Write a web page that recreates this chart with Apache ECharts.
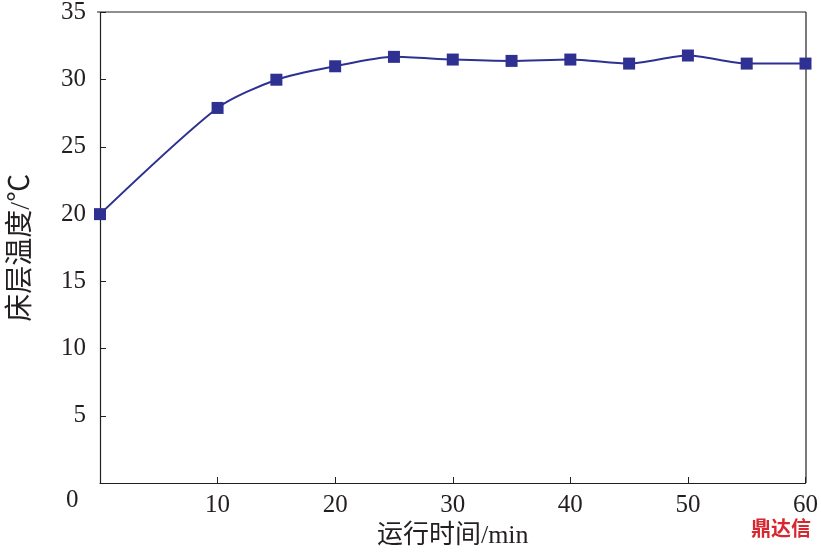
<!DOCTYPE html>
<html><head><meta charset="utf-8">
<script src="https://cdn.jsdelivr.net/npm/echarts@6/dist/echarts.min.js"></script>
<style>body{margin:0}#c{width:821px;height:555px}</style></head>
<body><div id="c"></div>
<script>
const times=[0,10,15,20,25,30,35,40,45,50,55,60];
const temps=[20,27.9,30,31,31.7,31.5,31.4,31.5,31.2,31.8,31.2,31.2];
const xTitle='运行时间/min', yTitle='床层温度/℃';
const font='"Liberation Serif","Noto Sans CJK SC",serif';
const ch=echarts.init(document.getElementById('c'));
ch.setOption({
 animation:false,
 grid:{left:97,right:15,top:12,bottom:72},
 xAxis:{type:'value',min:0,max:60,interval:10,name:xTitle,nameLocation:'middle',nameGap:38,
  nameTextStyle:{fontFamily:font,fontSize:26,color:'#231f20'},
  axisLine:{lineStyle:{color:'#231f20',width:1.2}},axisTick:{inside:true,length:6,lineStyle:{color:'#231f20'}},
  axisLabel:{fontFamily:font,fontSize:25,color:'#231f20',margin:10,formatter:v=>v===0?'':v},splitLine:{show:false}},
 yAxis:{type:'value',min:0,max:35,interval:5,name:yTitle,nameLocation:'middle',nameGap:64,
  nameTextStyle:{fontFamily:font,fontSize:28,color:'#231f20'},
  axisLine:{lineStyle:{color:'#231f20',width:1.2}},axisTick:{inside:true,length:6,lineStyle:{color:'#231f20'}},
  axisLabel:{fontFamily:font,fontSize:25,color:'#231f20',margin:14,formatter:v=>v===0?'':v},splitLine:{show:false}},
 graphic:[
  {type:'line',shape:{x1:97,y1:12,x2:806,y2:12},style:{stroke:'#231f20',lineWidth:1.2},silent:true},
  {type:'line',shape:{x1:806,y1:12,x2:806,y2:483},style:{stroke:'#231f20',lineWidth:1.2},silent:true},
  {type:'text',left:66,top:488,style:{text:'0',font:'25px '+font,fill:'#231f20'}},
  {type:'text',right:10,top:518,style:{text:'鼎达信',font:'bold 20px "Noto Sans CJK SC"',fill:'#d7282f'}}
 ],
 series:[{type:'line',smooth:0.25,data:times.map((t,i)=>[t,temps[i]]),symbol:'rect',symbolSize:12,
  lineStyle:{color:'#2e3192',width:2},itemStyle:{color:'#2e3192'}}]
});
</script></body></html>
